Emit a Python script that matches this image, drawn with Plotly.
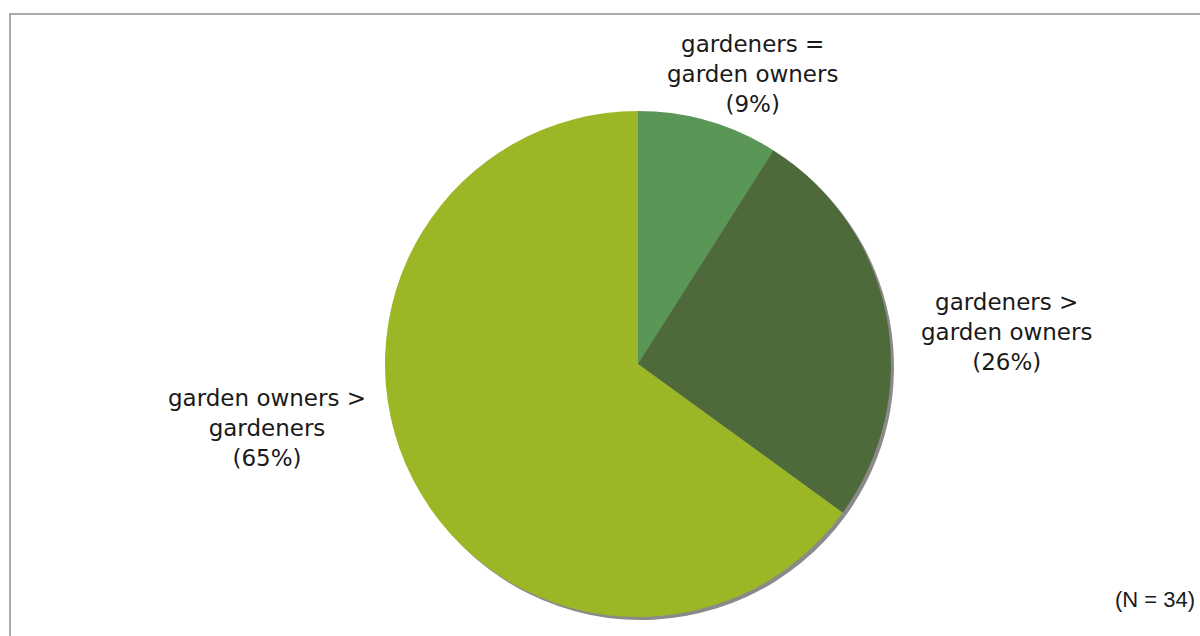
import plotly.graph_objects as go

# Relationship between number of gardeners and garden owners
categories = ["gardeners =<br>garden owners", "gardeners ><br>garden owners", "garden owners ><br>gardeners"]
shares = [9, 26, 65]
colors = ["#5a9656", "#4f6a3a", "#9bb726"]
n_total = 34

W, H = 1200, 636
cx, cy, r = 638, 364, 253  # pie centre and radius in pixels


def px_domain(x0, x1, y0, y1):
    return dict(x=[x0 / W, x1 / W], y=[1 - y1 / H, 1 - y0 / H])


fig = go.Figure()

# soft grey shadow offset toward the lower right
fig.add_trace(go.Pie(
    values=shares, labels=categories, sort=False, direction="clockwise",
    marker=dict(colors=["#8a8a8a"] * len(shares), line=dict(width=0)),
    textinfo="none", hoverinfo="skip", showlegend=False,
    domain=px_domain(cx - r + 3, cx + r + 3, cy - r + 3, cy + r + 3),
))

fig.add_trace(go.Pie(
    values=shares, labels=categories, sort=False, direction="clockwise",
    marker=dict(colors=colors, line=dict(width=0)),
    textinfo="none", showlegend=False,
    domain=px_domain(cx - r, cx + r, cy - r, cy + r),
))

label_font = dict(family="DejaVu Sans, sans-serif", size=23, color="#1a1a1a")
label_pos = [(752, 74), (1007, 332), (267, 428)]
annotations = []
for cat, val, (lx, ly) in zip(categories, shares, label_pos):
    annotations.append(dict(
        text=f"{cat}<br>({val}%)", x=lx / W, y=1 - ly / H, xref="paper", yref="paper",
        showarrow=False, align="center", xanchor="center", yanchor="middle", font=label_font,
    ))
annotations.append(dict(
    text=f"(N = {n_total})", x=1197 / W, y=1 - 599 / H, xref="paper", yref="paper",
    showarrow=False, xanchor="right", yanchor="middle",
    font=dict(family="Liberation Sans, Arial, sans-serif", size=22, color="#1a1a1a"),
))

fig.update_layout(
    width=W, height=H, margin=dict(l=0, r=0, t=0, b=0),
    paper_bgcolor="white", plot_bgcolor="white",
    annotations=annotations,
    shapes=[dict(type="rect", xref="paper", yref="paper",
                 x0=10 / W, x1=1.02, y0=-0.02, y1=1 - 14 / H,
                 line=dict(color="#aaaaaa", width=2))],
)

fig.write_html("out.html")
